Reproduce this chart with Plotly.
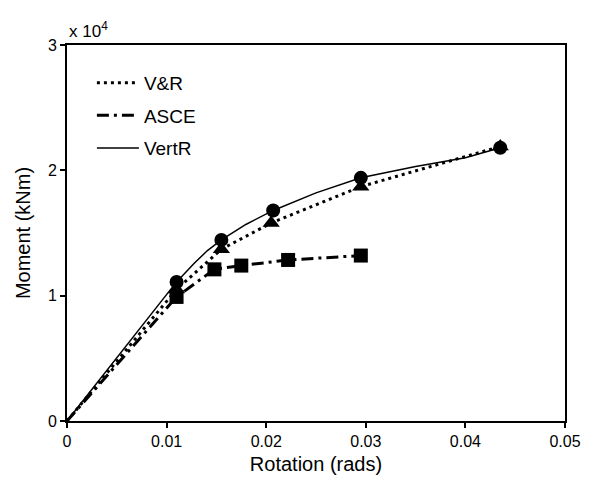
import plotly.graph_objects as go

# ---- data ----
vr_x = [0, 0.011, 0.0155, 0.0205, 0.0295, 0.0435]
vr_y = [0, 10500, 13700, 15800, 18700, 21900]

asce_x = [0, 0.011, 0.0148, 0.0175, 0.0222, 0.0295]
asce_y = [0, 9900, 12100, 12400, 12850, 13200]

vertr_curve_x = [0, 0.011, 0.0128, 0.0141, 0.0155, 0.018, 0.0207, 0.025, 0.0295, 0.035, 0.040, 0.0435]
vertr_curve_y = [0, 11100, 12600, 13600, 14450, 15700, 16800, 18200, 19400, 20300, 21000, 21800]
vertr_mark_x = [0.011, 0.0155, 0.0207, 0.0295, 0.0435]
vertr_mark_y = [11100, 14450, 16800, 19400, 21800]

vr_mark_x = vr_x[1:]
vr_mark_y = vr_y[1:]
asce_mark_x = asce_x[1:]
asce_mark_y = asce_y[1:]

x_ticks = [0, 0.01, 0.02, 0.03, 0.04, 0.05]
x_ticklabels = ["0", "0.01", "0.02", "0.03", "0.04", "0.05"]
y_ticks = [0, 10000, 20000, 30000]
y_ticklabels = ["0", "1", "2", "3"]

FONT = "Arial, Liberation Sans, sans-serif"

fig = go.Figure()

# lines (legend entries)
fig.add_trace(go.Scatter(x=vr_x, y=vr_y, mode="lines", name="V&R",
                         line=dict(color="black", width=3, dash="3px,4px"),
                         legendgroup="a"))
fig.add_trace(go.Scatter(x=asce_x, y=asce_y, mode="lines", name="ASCE",
                         line=dict(color="black", width=3, dash="12px,5px,3px,5px"),
                         legendgroup="b"))
fig.add_trace(go.Scatter(x=vertr_curve_x, y=vertr_curve_y, mode="lines", name="VertR",
                         line=dict(color="black", width=1.5),
                         legendgroup="c"))

# markers
fig.add_trace(go.Scatter(x=vr_mark_x, y=vr_mark_y, mode="markers", showlegend=False,
                         marker=dict(symbol="triangle-up", size=15, color="black")))
fig.add_trace(go.Scatter(x=asce_mark_x, y=asce_mark_y, mode="markers", showlegend=False,
                         marker=dict(symbol="square", size=14, color="black")))
fig.add_trace(go.Scatter(x=vertr_mark_x, y=vertr_mark_y, mode="markers", showlegend=False,
                         marker=dict(symbol="circle", size=14, color="black")))

fig.update_layout(
    width=604, height=485,
    margin=dict(l=67, r=39, t=45, b=64),
    paper_bgcolor="white", plot_bgcolor="white",
    font=dict(family=FONT, color="black", size=16),
    showlegend=True,
    legend=dict(x=0.05, y=0.95, xanchor="left", yanchor="top",
                bgcolor="rgba(0,0,0,0)", font=dict(size=19, family=FONT),
                itemwidth=42, tracegroupgap=5),
    xaxis=dict(range=[0, 0.05], tickvals=x_ticks, ticktext=x_ticklabels,
               showgrid=False, zeroline=False, showline=True, linecolor="black",
               linewidth=2, mirror=True, ticks="outside", ticklen=5, tickwidth=2,
               tickcolor="black", tickfont=dict(size=16),
               title=dict(text="Rotation (rads)", font=dict(size=20), standoff=8)),
    yaxis=dict(range=[0, 30000], tickvals=y_ticks, ticktext=y_ticklabels,
               showgrid=False, zeroline=False, showline=True, linecolor="black",
               linewidth=2, mirror=True, ticks="outside", ticklen=5, tickwidth=2,
               tickcolor="black", tickfont=dict(size=16),
               title=dict(text="Moment (kNm)", font=dict(size=20), standoff=12)),
)

fig.add_annotation(x=0, y=1.0, xref="paper", yref="paper", xanchor="left", yanchor="bottom",
                   text="x 10<sup>4</sup>", showarrow=False, yshift=2,
                   font=dict(size=17, family=FONT))

fig.write_html("out.html")
